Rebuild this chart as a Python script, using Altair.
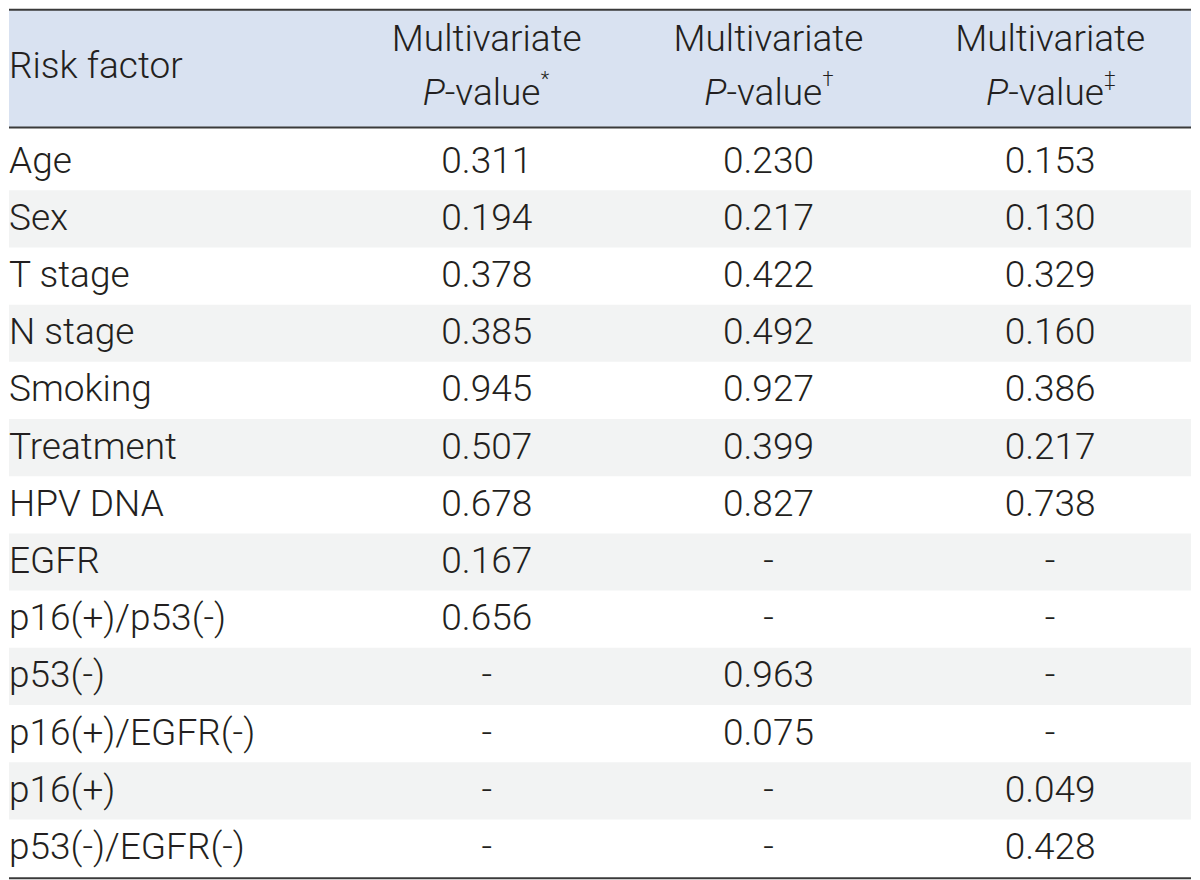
import altair as alt
import pandas as pd

factors = ["Age", "Sex", "T stage", "N stage", "Smoking", "Treatment", "HPV DNA",
           "EGFR", "p16(+)/p53(-)", "p53(-)", "p16(+)/EGFR(-)", "p16(+)", "p53(-)/EGFR(-)"]
pval_1 = ["0.311", "0.194", "0.378", "0.385", "0.945", "0.507", "0.678",
          "0.167", "0.656", "-", "-", "-", "-"]
pval_2 = ["0.230", "0.217", "0.422", "0.492", "0.927", "0.399", "0.827",
          "-", "-", "0.963", "0.075", "-", "-"]
pval_3 = ["0.153", "0.130", "0.329", "0.160", "0.386", "0.217", "0.738",
          "-", "-", "-", "-", "0.049", "0.428"]
header_first = "Risk factor"
header_line1 = ["Multivariate", "Multivariate", "Multivariate"]
header_p = ["P", "P", "P"]
header_rest = ["-value", "-value", "-value"]
header_sup = ["*", "\u2020", "\u2021"]

FONT = "Roboto"
TXT = "#231f20"
FS = 37

X_MIN, X_MAX = -0.696, 3.5
Y_MIN, Y_MAX = -2.17, 13.06
xs = alt.Scale(domain=[X_MIN, X_MAX], nice=False, zero=False)
ys = alt.Scale(domain=[Y_MIN, Y_MAX], nice=False, zero=False, reverse=True)

n = len(factors)
rows = pd.DataFrame({"row": list(range(n)), "factor": factors})
rows["top"] = rows["row"]
rows["bot"] = rows["row"] + 1
rows["mid"] = rows["row"] + 0.5
rows["lx"] = X_MIN
rows["x0"] = X_MIN
rows["x1"] = X_MAX

cells = []
for c, vals in enumerate([pval_1, pval_2, pval_3], start=1):
    for r, v in enumerate(vals):
        cells.append({"col": c, "mid": r + 0.5, "val": v})
cells = pd.DataFrame(cells)

hdr = pd.DataFrame({"col": [1, 2, 3], "l1": header_line1, "p": header_p,
                    "rest": header_rest, "sup": header_sup})
hdr["y1"] = -1.62
hdr["y2"] = -0.68
hdr["ys"] = -0.92

band = pd.DataFrame({"x0": [X_MIN], "x1": [X_MAX], "top": [Y_MIN], "bot": [-0.09],
                     "lx": [X_MIN], "ly": [-1.16], "t": [header_first]})
lines = pd.DataFrame({"x0": [X_MIN] * 3, "x1": [X_MAX] * 3, "y": [-2.155, -0.1, 13.03]})

X = lambda f: alt.X(f, type="quantitative", scale=xs, axis=None)
Y = lambda f: alt.Y(f, type="quantitative", scale=ys, axis=None)

header_bg = alt.Chart(band).mark_rect(color="#d9e2f1").encode(
    x=X("x0"), x2="x1", y=Y("top"), y2="bot")
stripes = alt.Chart(rows).transform_filter("datum.row % 2 == 1").mark_rect(color="#f2f3f3").encode(
    x=X("x0"), x2="x1", y=Y("top"), y2="bot")
rules = alt.Chart(lines).mark_rule(color="#3a3a3a", strokeWidth=2).encode(
    x=X("x0"), x2="x1", y=Y("y"))

labels = alt.Chart(rows).mark_text(align="left", baseline="middle", font=FONT, fontSize=FS,
                                   fontWeight=300, color=TXT).encode(
    x=X("lx"), y=Y("mid"), text="factor:N")
values = alt.Chart(cells).mark_text(align="center", baseline="middle", font=FONT, fontSize=FS,
                                    fontWeight=300, color=TXT).encode(
    x=X("col"), y=Y("mid"), text="val:N")

h_first = alt.Chart(band).mark_text(align="left", baseline="middle", font=FONT, fontSize=FS,
                                    fontWeight=300, color=TXT).encode(
    x=X("lx"), y=Y("ly"), text="t:N")
h_l1 = alt.Chart(hdr).mark_text(align="center", baseline="middle", font=FONT, fontSize=FS,
                                fontWeight=300, color=TXT).encode(
    x=X("col"), y=Y("y1"), text="l1:N")
h_p = alt.Chart(hdr).mark_text(align="right", baseline="middle", font=FONT, fontSize=FS,
                               fontWeight=300, fontStyle="italic", color=TXT, dx=-42).encode(
    x=X("col"), y=Y("y2"), text="p:N")
h_rest = alt.Chart(hdr).mark_text(align="left", baseline="middle", font=FONT, fontSize=FS,
                                  fontWeight=300, color=TXT, dx=-42).encode(
    x=X("col"), y=Y("y2"), text="rest:N")
h_sup = alt.Chart(hdr).mark_text(align="left", baseline="middle", font=FONT, fontSize=20,
                                 fontWeight=300, color=TXT, dx=54).encode(
    x=X("col"), y=Y("ys"), text="sup:N")

chart = alt.layer(header_bg, stripes, rules, labels, values, h_first, h_l1, h_p, h_rest, h_sup).properties(
    width=1184, height=872, padding=0,
    autosize=alt.AutoSizeParams(type="fit", contains="padding"),
    background="white",
).configure_view(strokeWidth=0)

chart.save("out.html", embed_options={"renderer": "svg", "actions": False})
